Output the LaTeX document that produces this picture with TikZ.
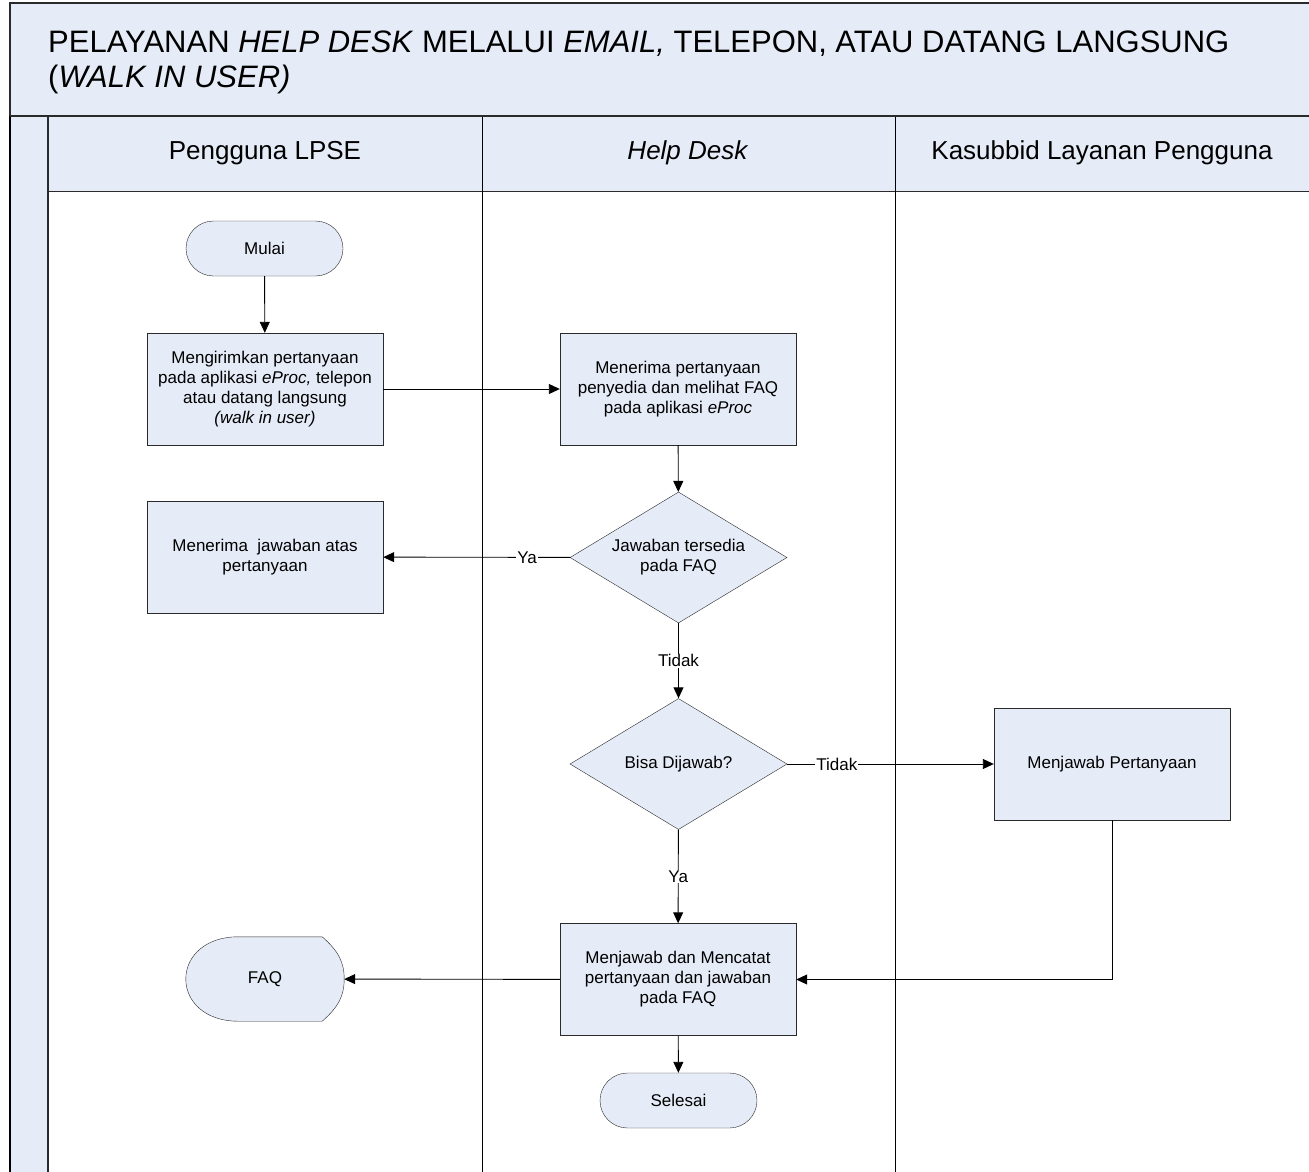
\documentclass[tikz,border=0pt]{standalone}
\usepackage{fontspec}
\setmainfont{Liberation Sans}
\usetikzlibrary{arrows.meta,shapes.geometric}
\definecolor{lanefill}{HTML}{E6ECF7}
\definecolor{edgecol}{HTML}{2A2A2A}
\begin{document}
\begin{tikzpicture}[x=1pt,y=-1pt,
  proc/.style={draw=edgecol, fill=lanefill, minimum width=236pt, minimum height=112pt, align=center, inner sep=0pt, font=\fontsize{17}{20}\selectfont},
  term/.style={draw=edgecol, fill=lanefill, rounded corners=27.5pt, minimum width=157pt, minimum height=55pt, inner sep=0pt, font=\fontsize{17}{20}\selectfont},
  dec/.style={draw=edgecol, fill=lanefill, diamond, aspect=1.66, minimum width=217pt, minimum height=131pt, inner sep=0pt, align=center, font=\fontsize{17}{20}\selectfont},
  arr/.style={draw=black, line width=0.9pt, -{Triangle[length=11pt,width=10pt]}},
  lbl/.style={fill=white, inner sep=1pt, font=\fontsize{17}{20}\selectfont},
  hdr/.style={font=\fontsize{26}{30}\selectfont},
  ttl/.style={anchor=base west, inner sep=0pt, font=\fontsize{31}{35}\selectfont}
]
\useasboundingbox (0,0) rectangle (1309,1172);
\clip (0,0) rectangle (1309,1172);
\fill[white] (0,0) rectangle (1309,1172);
% title box
\draw[fill=lanefill, draw=edgecol, line width=1.2pt] (10,3) rectangle (1330,116);
\node[ttl] (title1) at (48,53) {PELAYANAN \textit{HELP DESK} MELALUI \textit{EMAIL,} TELEPON, ATAU DATANG LANGSUNG};
\node[ttl] (title2) at (48,87) {(\textit{WALK IN USER)}};
% left strip and header row
\fill[lanefill] (10,116) rectangle (48,1180);
\draw[fill=lanefill, draw=edgecol, line width=1pt] (48,116) rectangle (1330,191);
\draw[black, line width=2pt] (10,116) -- (10,1180);
\draw[edgecol, line width=1.2pt] (48,116) -- (48,1180);
\draw[black, line width=1pt] (482,116) -- (482,1180);
\draw[black, line width=1pt] (895,116) -- (895,1180);
\draw[edgecol, line width=1.2pt] (10,116) -- (1330,116);
\node[hdr] (h1) at (265,153) {Pengguna LPSE};
\node[hdr] (h2) at (688,153) {\textit{Help Desk}};
\node[hdr] (h3) at (1102,153) {Kasubbid Layanan Pengguna};
% nodes
\node[term] (mulai) at (264.5,248.5) {Mulai};
\node[proc] (b1) at (265,389) {Mengirimkan pertanyaan\\pada aplikasi \textit{eProc,} telepon\\atau datang langsung\\\textit{(walk in user)}};
\node[proc] (b2) at (678,389) {Menerima pertanyaan\\penyedia dan melihat FAQ\\pada aplikasi \textit{eProc}};
\node[dec] (d1) at (678.5,557.5) {Jawaban tersedia\\pada FAQ};
\node[proc] (b3) at (265,557) {Menerima\ \ jawaban atas\\pertanyaan};
\node[dec] (d2) at (678.5,764) {Bisa Dijawab?};
\node[proc] (b4) at (1112,764) {Menjawab Pertanyaan};
\node[proc] (b5) at (678,979.5) {Menjawab dan Mencatat\\pertanyaan dan jawaban\\pada FAQ};
\node[minimum width=158pt, minimum height=84pt, inner sep=0pt] (faq) at (265,979) {};
\draw[draw=edgecol, fill=lanefill]
  ([xshift=52pt]faq.north west) -- ([xshift=-22pt]faq.north east)
  .. controls ([xshift=-6pt,yshift=-14pt]faq.north east) and (faq.east |- 0,962) .. (faq.east)
  .. controls (faq.east |- 0,996) and ([xshift=-6pt,yshift=14pt]faq.south east) .. ([xshift=-22pt]faq.south east)
  -- ([xshift=52pt]faq.south west)
  .. controls ([xshift=20pt]faq.south west) and (faq.west |- 0,1002) .. (faq.west)
  .. controls (faq.west |- 0,956) and ([xshift=20pt]faq.north west) .. ([xshift=52pt]faq.north west) -- cycle;
\node[font=\fontsize{17}{20}\selectfont] (faqtext) at (faq.center) {FAQ};
\node[term] (selesai) at (678.5,1100.5) {Selesai};
% connectors
\draw[arr] (mulai) -- (b1);
\draw[arr] (b1) -- (b2);
\draw[arr] (b2) -- (d1);
\draw[arr] (d1) -- node[lbl, pos=0.23] {Ya} (b3);
\draw[arr] (d1) -- node[lbl] {Tidak} (d2);
\draw[arr] (d2) -- node[lbl, pos=0.24] {Tidak} (b4);
\draw[arr] (d2) -- node[lbl] {Ya} (b5);
\draw[arr] (b4) |- (b5);
\draw[arr] (b5) -- (faq);
\draw[arr] (b5) -- (selesai);
\end{tikzpicture}
\end{document}
